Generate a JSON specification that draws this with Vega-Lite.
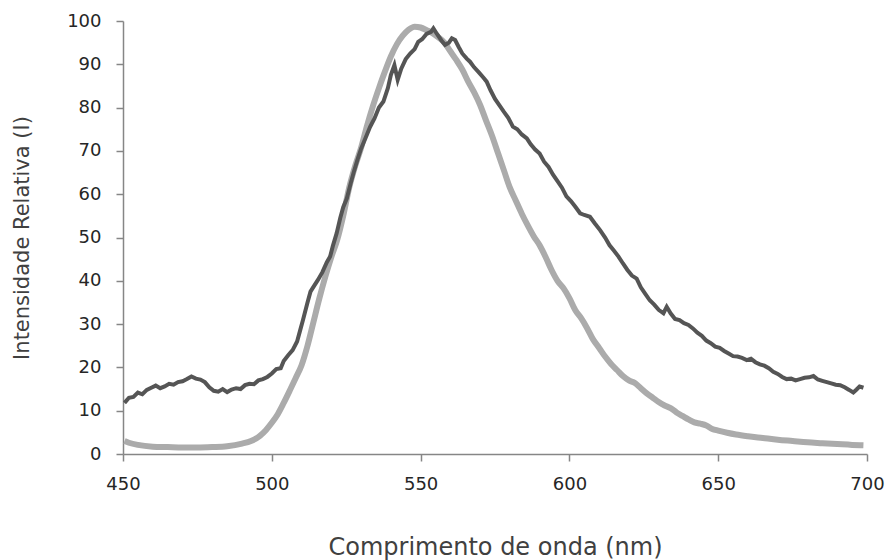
{
  "$schema": "https://vega.github.io/schema/vega-lite/v6.json",
  "autosize": {"type": "none"},
  "width": 744,
  "height": 433,
  "padding": {"left": 123, "top": 21, "right": 20, "bottom": 106},
  "background": "white",
  "config": {
    "view": {"stroke": null},
    "axis": {
      "grid": false,
      "domainColor": "#868686",
      "domainWidth": 1.5,
      "tickColor": "#868686",
      "tickWidth": 1.5,
      "tickSize": 7,
      "labelFont": "DejaVu Sans",
      "labelFontSize": 18,
      "labelColor": "#262626",
      "labelFlush": false,
      "labelOverlap": false,
      "titleFont": "DejaVu Sans",
      "titleFontWeight": "normal",
      "titleColor": "#404040"
    }
  },
  "datasets": {
    "light": [
      {"wl": 450.5, "I": 3.0}, {"wl": 452, "I": 2.6}, {"wl": 455, "I": 2.1}, {"wl": 460, "I": 1.7},
      {"wl": 465, "I": 1.6}, {"wl": 470, "I": 1.5}, {"wl": 475, "I": 1.5}, {"wl": 480, "I": 1.6},
      {"wl": 485, "I": 1.8}, {"wl": 490, "I": 2.4}, {"wl": 493, "I": 3.0}, {"wl": 496, "I": 4.2},
      {"wl": 498, "I": 5.5}, {"wl": 500, "I": 7.2}, {"wl": 502, "I": 9.2}, {"wl": 504, "I": 11.8},
      {"wl": 506, "I": 14.6}, {"wl": 508, "I": 17.5}, {"wl": 510, "I": 20.5}, {"wl": 512, "I": 25.0},
      {"wl": 514, "I": 30.5}, {"wl": 516, "I": 36.0}, {"wl": 518, "I": 41.0}, {"wl": 520, "I": 45.5},
      {"wl": 522, "I": 49.5}, {"wl": 524, "I": 55.0}, {"wl": 526, "I": 61.5}, {"wl": 528, "I": 66.5},
      {"wl": 530, "I": 70.7}, {"wl": 532, "I": 75.8}, {"wl": 534, "I": 80.4}, {"wl": 536, "I": 84.5},
      {"wl": 538, "I": 88.3}, {"wl": 540, "I": 91.8}, {"wl": 542, "I": 94.6}, {"wl": 544, "I": 96.6},
      {"wl": 546, "I": 98.0}, {"wl": 548, "I": 98.7}, {"wl": 550, "I": 98.5}, {"wl": 552, "I": 97.9},
      {"wl": 554, "I": 97.2}, {"wl": 556, "I": 96.2}, {"wl": 558, "I": 95.0}, {"wl": 560, "I": 93.0},
      {"wl": 562, "I": 91.0}, {"wl": 564, "I": 88.8}, {"wl": 566, "I": 86.0}, {"wl": 568, "I": 83.5},
      {"wl": 570, "I": 80.6}, {"wl": 572, "I": 77.0}, {"wl": 574, "I": 73.5}, {"wl": 576, "I": 69.5},
      {"wl": 578, "I": 65.5}, {"wl": 580, "I": 61.5}, {"wl": 582, "I": 58.5}, {"wl": 584, "I": 55.5},
      {"wl": 586, "I": 52.8}, {"wl": 588, "I": 50.3}, {"wl": 590, "I": 48.2}, {"wl": 592, "I": 45.5},
      {"wl": 594, "I": 42.5}, {"wl": 596, "I": 40.0}, {"wl": 598, "I": 38.3}, {"wl": 600, "I": 36.0},
      {"wl": 602, "I": 33.2}, {"wl": 604, "I": 31.3}, {"wl": 606, "I": 29.0}, {"wl": 608, "I": 26.4},
      {"wl": 610, "I": 24.5}, {"wl": 612, "I": 22.5}, {"wl": 614, "I": 20.8}, {"wl": 616, "I": 19.4},
      {"wl": 618, "I": 18.0}, {"wl": 620, "I": 17.0}, {"wl": 622, "I": 16.4}, {"wl": 624, "I": 15.2},
      {"wl": 626, "I": 14.0}, {"wl": 628, "I": 13.0}, {"wl": 630, "I": 12.0}, {"wl": 632, "I": 11.2},
      {"wl": 634, "I": 10.6}, {"wl": 636, "I": 9.6}, {"wl": 638, "I": 8.8}, {"wl": 640, "I": 8.0},
      {"wl": 642, "I": 7.3}, {"wl": 644, "I": 7.0}, {"wl": 646, "I": 6.6}, {"wl": 648, "I": 5.8},
      {"wl": 650, "I": 5.4}, {"wl": 653, "I": 4.9}, {"wl": 656, "I": 4.5}, {"wl": 660, "I": 4.1},
      {"wl": 665, "I": 3.7}, {"wl": 670, "I": 3.3}, {"wl": 675, "I": 3.0}, {"wl": 680, "I": 2.7},
      {"wl": 685, "I": 2.5}, {"wl": 690, "I": 2.3}, {"wl": 695, "I": 2.1}, {"wl": 698.8, "I": 2.0}
    ],
    "dark": [
      {"wl": 450.5, "I": 11.8}, {"wl": 452, "I": 13.0}, {"wl": 453.5, "I": 13.2}, {"wl": 455, "I": 14.2},
      {"wl": 456.5, "I": 13.8}, {"wl": 458, "I": 14.8}, {"wl": 459.5, "I": 15.3}, {"wl": 461, "I": 15.8},
      {"wl": 462.5, "I": 15.2}, {"wl": 464, "I": 15.6}, {"wl": 465.5, "I": 16.2}, {"wl": 467, "I": 16.0},
      {"wl": 468.5, "I": 16.6}, {"wl": 470, "I": 16.8}, {"wl": 471.5, "I": 17.3}, {"wl": 473, "I": 17.9},
      {"wl": 474.5, "I": 17.4}, {"wl": 476, "I": 17.2}, {"wl": 477.5, "I": 16.6}, {"wl": 479, "I": 15.4},
      {"wl": 480.5, "I": 14.6}, {"wl": 482, "I": 14.4}, {"wl": 483.5, "I": 15.0}, {"wl": 485, "I": 14.3},
      {"wl": 486.5, "I": 14.9}, {"wl": 488, "I": 15.2}, {"wl": 489.5, "I": 15.0}, {"wl": 491, "I": 15.9},
      {"wl": 492.5, "I": 16.2}, {"wl": 494, "I": 16.1}, {"wl": 495.5, "I": 17.0}, {"wl": 497, "I": 17.3},
      {"wl": 498.5, "I": 17.8}, {"wl": 500, "I": 18.6}, {"wl": 501.5, "I": 19.6}, {"wl": 503, "I": 19.8},
      {"wl": 504, "I": 21.5}, {"wl": 505.5, "I": 22.8}, {"wl": 507, "I": 24.0}, {"wl": 508.5, "I": 26.0},
      {"wl": 509.5, "I": 28.5}, {"wl": 510.5, "I": 31.0}, {"wl": 512, "I": 35.0}, {"wl": 513, "I": 37.5},
      {"wl": 514, "I": 38.6}, {"wl": 515.5, "I": 40.2}, {"wl": 517, "I": 42.0}, {"wl": 518.5, "I": 44.3},
      {"wl": 519.6, "I": 45.6}, {"wl": 520.5, "I": 48.0}, {"wl": 521.8, "I": 51.0}, {"wl": 523, "I": 54.5},
      {"wl": 524, "I": 57.0}, {"wl": 525.2, "I": 59.0}, {"wl": 526.5, "I": 62.5}, {"wl": 527.5, "I": 65.0},
      {"wl": 528.8, "I": 68.0}, {"wl": 530, "I": 70.5}, {"wl": 531.5, "I": 73.0}, {"wl": 533, "I": 75.5},
      {"wl": 534.5, "I": 77.5}, {"wl": 536, "I": 80.0}, {"wl": 537.5, "I": 81.4}, {"wl": 539, "I": 84.5},
      {"wl": 540, "I": 87.5}, {"wl": 541.2, "I": 89.8}, {"wl": 542.3, "I": 86.4}, {"wl": 543.5, "I": 89.0},
      {"wl": 545, "I": 91.2}, {"wl": 546.5, "I": 92.5}, {"wl": 548, "I": 93.5}, {"wl": 549.2, "I": 95.2},
      {"wl": 550.5, "I": 95.8}, {"wl": 552, "I": 97.0}, {"wl": 553.5, "I": 97.5}, {"wl": 554.3, "I": 98.3},
      {"wl": 555.5, "I": 97.0}, {"wl": 557, "I": 95.5}, {"wl": 558.2, "I": 94.5}, {"wl": 559.5, "I": 95.0},
      {"wl": 560.5, "I": 96.0}, {"wl": 561.6, "I": 95.6}, {"wl": 562.8, "I": 94.0}, {"wl": 564, "I": 92.5},
      {"wl": 565.5, "I": 91.3}, {"wl": 566.6, "I": 90.6}, {"wl": 568, "I": 89.3}, {"wl": 569.5, "I": 88.2},
      {"wl": 571, "I": 87.0}, {"wl": 572.2, "I": 86.0}, {"wl": 573.5, "I": 84.0}, {"wl": 575, "I": 82.0},
      {"wl": 576.5, "I": 80.5}, {"wl": 578, "I": 79.0}, {"wl": 579.5, "I": 77.6}, {"wl": 581, "I": 75.6},
      {"wl": 582.5, "I": 75.0}, {"wl": 584, "I": 73.8}, {"wl": 585.7, "I": 72.9}, {"wl": 587, "I": 71.5},
      {"wl": 588.5, "I": 70.3}, {"wl": 590, "I": 69.4}, {"wl": 591.5, "I": 67.5}, {"wl": 593, "I": 66.3},
      {"wl": 594.5, "I": 64.5}, {"wl": 596, "I": 63.0}, {"wl": 597.5, "I": 61.5}, {"wl": 599, "I": 59.5},
      {"wl": 600.5, "I": 58.4}, {"wl": 602, "I": 57.1}, {"wl": 603.6, "I": 55.6}, {"wl": 605, "I": 55.2},
      {"wl": 606.9, "I": 54.8}, {"wl": 608.5, "I": 53.3}, {"wl": 610.3, "I": 51.7}, {"wl": 612, "I": 50.0},
      {"wl": 613.5, "I": 48.2}, {"wl": 614.8, "I": 47.1}, {"wl": 616.5, "I": 45.6}, {"wl": 618, "I": 44.0},
      {"wl": 619.5, "I": 42.5}, {"wl": 621, "I": 41.2}, {"wl": 622.6, "I": 40.5}, {"wl": 624, "I": 38.5},
      {"wl": 625.5, "I": 37.0}, {"wl": 627, "I": 35.5}, {"wl": 628.5, "I": 34.5}, {"wl": 630, "I": 33.3},
      {"wl": 631.6, "I": 32.5}, {"wl": 632.7, "I": 34.0}, {"wl": 634, "I": 32.5}, {"wl": 635.5, "I": 31.2},
      {"wl": 637, "I": 30.9}, {"wl": 638.5, "I": 30.2}, {"wl": 640, "I": 29.8}, {"wl": 641.5, "I": 29.0},
      {"wl": 643, "I": 28.0}, {"wl": 644.5, "I": 27.3}, {"wl": 646, "I": 26.2}, {"wl": 647.5, "I": 25.6},
      {"wl": 649, "I": 24.8}, {"wl": 650.5, "I": 24.5}, {"wl": 652, "I": 23.8}, {"wl": 653.5, "I": 23.2},
      {"wl": 655, "I": 22.6}, {"wl": 656.5, "I": 22.5}, {"wl": 658, "I": 22.2}, {"wl": 659.6, "I": 21.7},
      {"wl": 661, "I": 22.0}, {"wl": 662.5, "I": 21.2}, {"wl": 664, "I": 20.7}, {"wl": 665.5, "I": 20.4},
      {"wl": 667, "I": 19.8}, {"wl": 668.5, "I": 19.0}, {"wl": 670, "I": 18.5}, {"wl": 671.5, "I": 17.8},
      {"wl": 673, "I": 17.3}, {"wl": 674.5, "I": 17.4}, {"wl": 676, "I": 17.0}, {"wl": 677.5, "I": 17.3},
      {"wl": 679, "I": 17.6}, {"wl": 680.5, "I": 17.7}, {"wl": 682, "I": 18.0}, {"wl": 683.5, "I": 17.2},
      {"wl": 685, "I": 16.9}, {"wl": 686.5, "I": 16.6}, {"wl": 688, "I": 16.3}, {"wl": 689.5, "I": 16.0},
      {"wl": 691, "I": 15.9}, {"wl": 692.5, "I": 15.4}, {"wl": 694, "I": 14.8}, {"wl": 695.4, "I": 14.2},
      {"wl": 696.5, "I": 14.9}, {"wl": 697.5, "I": 15.6}, {"wl": 698.8, "I": 15.3}
    ]
  },
  "encoding": {
    "x": {
      "field": "wl", "type": "quantitative",
      "scale": {"domain": [450, 700], "nice": false, "zero": false},
      "axis": {
        "values": [450, 500, 550, 600, 650, 700],
        "labelPadding": 14,
        "title": "Comprimento de onda (nm)",
        "titleFontSize": 24,
        "titlePadding": 42
      }
    },
    "y": {
      "field": "I", "type": "quantitative",
      "scale": {"domain": [0, 100], "nice": false},
      "axis": {
        "values": [0, 10, 20, 30, 40, 50, 60, 70, 80, 90, 100],
        "labelPadding": 15,
        "title": "Intensidade Relativa (I)",
        "titleFontSize": 21,
        "titlePadding": 34
      }
    }
  },
  "layer": [
    {
      "data": {"name": "light"},
      "mark": {"type": "line", "color": "#ababab", "strokeWidth": 6, "interpolate": "monotone"}
    },
    {
      "data": {"name": "dark"},
      "mark": {"type": "line", "color": "#555555", "strokeWidth": 4, "interpolate": "linear"}
    }
  ]
}
